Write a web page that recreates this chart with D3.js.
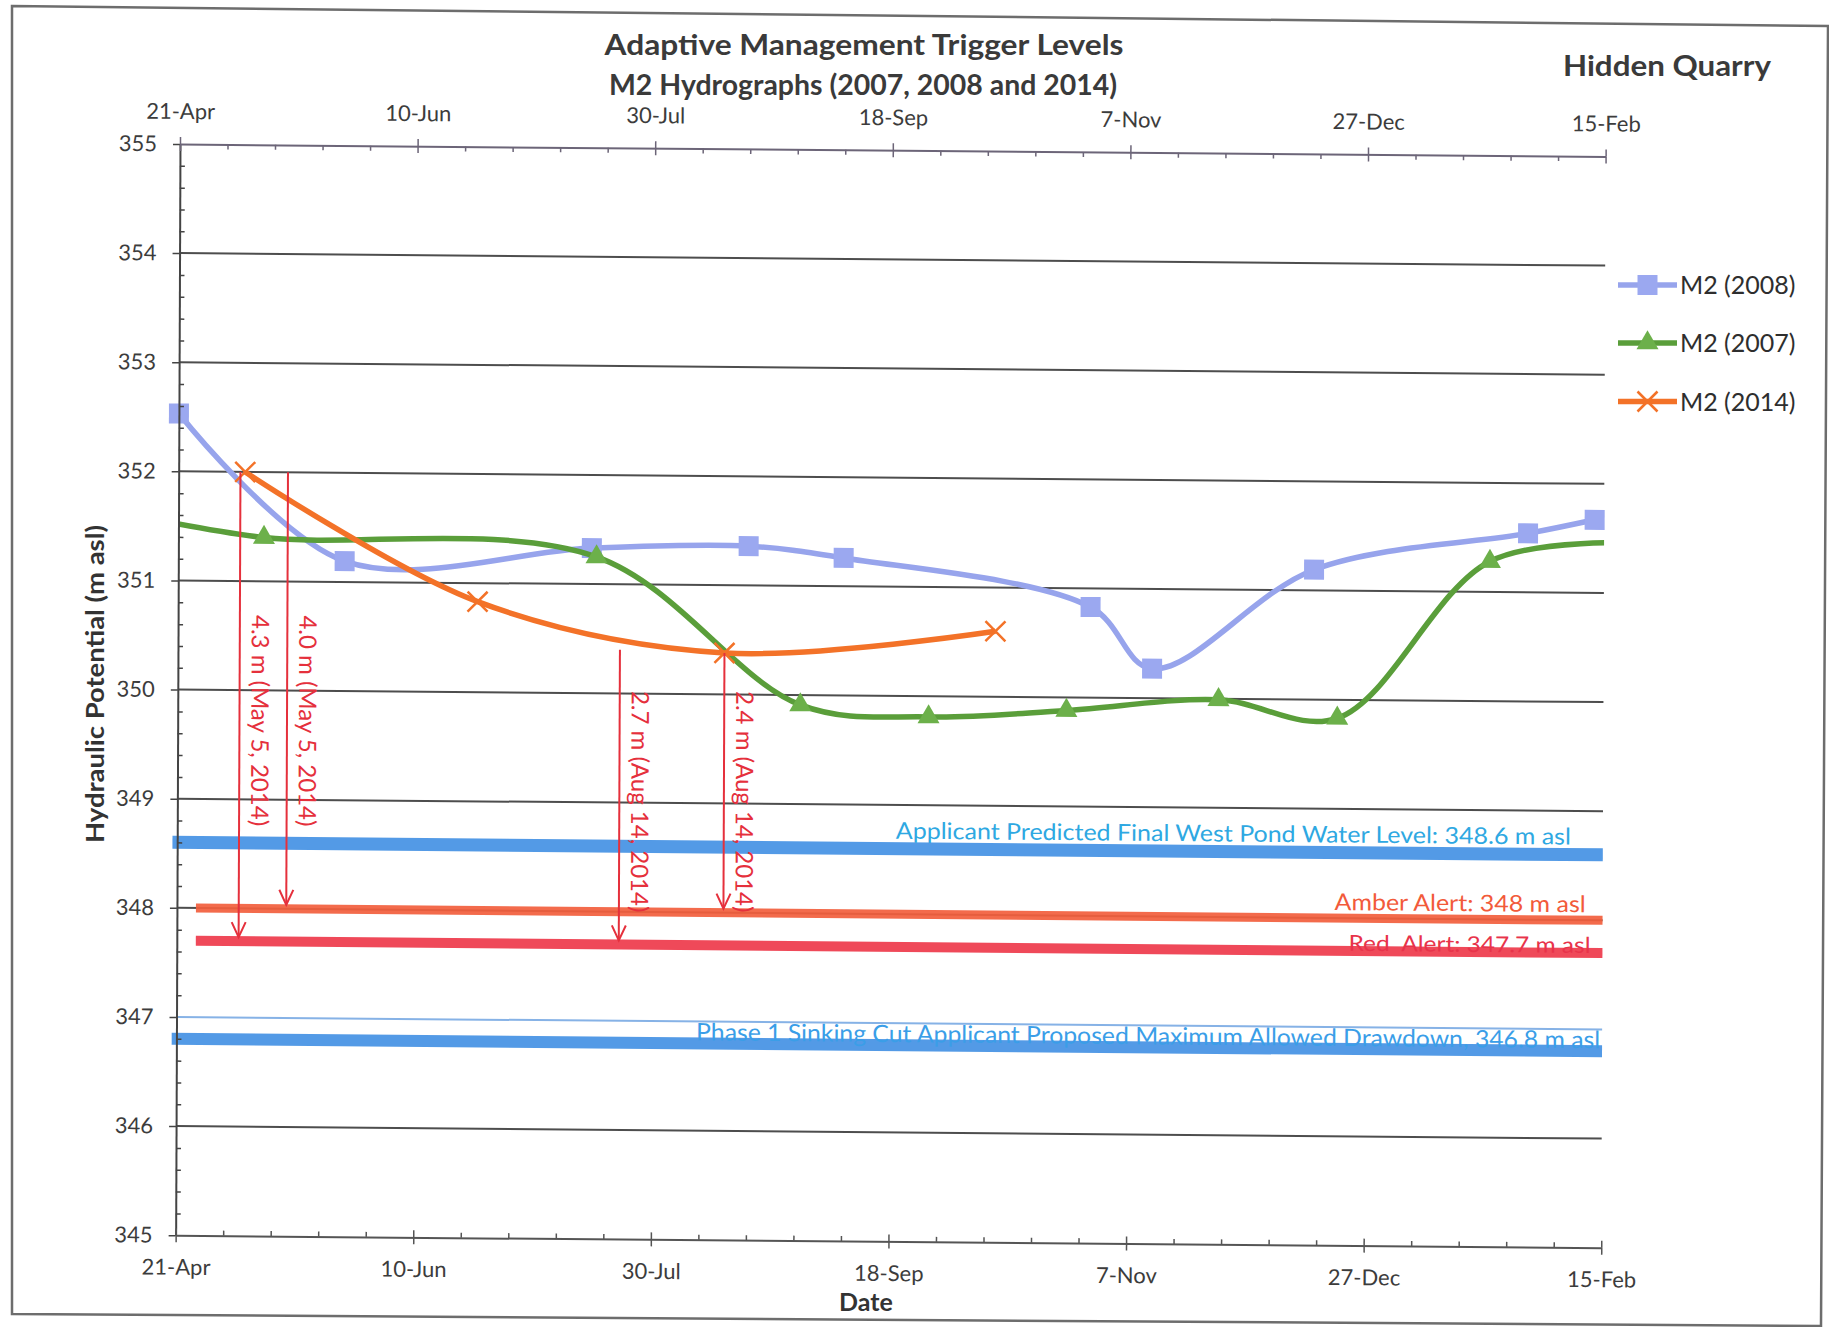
<!DOCTYPE html>
<html><head><meta charset="utf-8">
<script src="https://cdn.jsdelivr.net/npm/d3@7"></script>
<style>
html,body{margin:0;padding:0;background:#fff;}
svg{display:block;}
text{font-family:Lato,"Noto Sans",sans-serif;}
</style></head>
<body><svg id="chart" width="1829" height="1327"></svg>
<script>
// ---------------- data ----------------
const xTickLabels = ["21-Apr","10-Jun","30-Jul","18-Sep","7-Nov","27-Dec","15-Feb"];
const yTickValues = [345,346,347,348,349,350,351,352,353,354,355];
const seriesNames = ["M2 (2008)","M2 (2007)","M2 (2014)"];
const m2_2008_dates  = ["21-Apr","26-May","17-Jul","19-Aug","8-Sep","30-Oct","12-Nov","16-Dec","30-Jan","13-Feb"];
const m2_2008_values = [352.53,351.19,351.33,351.36,351.26,350.83,350.27,351.19,351.54,351.67];
const m2_2007_dates  = ["11-Apr","9-May","18-Jul","30-Aug","26-Sep","25-Oct","26-Nov","21-Dec","22-Jan","22-Feb"];
const m2_2007_values = [351.60,351.40,351.25,349.91,349.81,349.88,349.99,349.83,351.28,351.46];
const m2_2014_dates  = ["5-May","23-Jun","14-Aug","10-Oct"];
const m2_2014_values = [352.0,350.83,350.38,350.60];
const levelLabels = ["Applicant Predicted Final West Pond Water Level: 348.6 m asl","Amber Alert: 348 m asl","Red  Alert: 347.7 m asl","Phase 1 Sinking Cut Applicant Proposed Maximum Allowed Drawdown, 346.8 m asl"];
const levelValues = [348.6,348.0,347.7,346.8];
const levelStart  = ["20-Apr","25-Apr","25-Apr","20-Apr"];
const levelEnd    = ["15-Feb","15-Feb","15-Feb","15-Feb"];
const annoDates  = ["4-May","14-May","23-Jul","14-Aug"];
const annoTop    = [352.0,352.0,350.4,350.38];
const annoBottom = [347.7,348.0,347.7,348.0];
const annoLabels = ["4.3 m (May 5, 2014)","4.0 m (May 5, 2014)","2.7 m (Aug 14, 2014)","2.4 m (Aug 14, 2014)"];

// ---------------- layout / style ----------------
const W = 1425.6, H = 1091.2;
const svg = d3.select("#chart");
const parseDay = s => { const [d,m] = s.split("-"); return d3.utcParse("%d-%b-%Y")(`${d}-${m}-${(m==="Jan"||m==="Feb")?2015:2014}`); };
const x = d3.scaleUtc().domain([parseDay(xTickLabels[0]), parseDay(xTickLabels[xTickLabels.length-1])]).range([0, W]);
const y = d3.scaleLinear().domain([345,355]).range([H,0]);

// outer frame (scanned page border)
svg.append("polygon").attr("points","12,6 1828,26 1821,1326 12,1314")
  .attr("fill","none").attr("stroke","#6d6d6d").attr("stroke-width",2.5);

// titles
svg.append("text").attr("x",864).attr("y",55).attr("text-anchor","middle")
  .attr("font-size",29).attr("font-weight","bold").attr("fill","#3a3a3a")
  .attr("textLength",519).attr("lengthAdjust","spacingAndGlyphs")
  .text("Adaptive Management Trigger Levels");
svg.append("text").attr("x",863).attr("y",95).attr("text-anchor","middle")
  .attr("font-size",29).attr("font-weight","bold").attr("fill","#3a3a3a")
  .attr("textLength",508).attr("lengthAdjust","spacingAndGlyphs")
  .text("M2 Hydrographs (2007, 2008 and 2014)");
svg.append("text").attr("x",1667).attr("y",76).attr("text-anchor","middle")
  .attr("font-size",29).attr("font-weight","bold").attr("fill","#3a3a3a")
  .attr("textLength",208).attr("lengthAdjust","spacingAndGlyphs")
  .text("Hidden Quarry");
svg.append("text").attr("transform","translate(104,684) rotate(-90)").attr("text-anchor","middle")
  .attr("font-size",25).attr("font-weight","bold").attr("fill","#333")
  .attr("textLength",318).attr("lengthAdjust","spacingAndGlyphs")
  .text("Hydraulic Potential (m asl)");
svg.append("text").attr("x",866).attr("y",1311).attr("text-anchor","middle")
  .attr("font-size",25).attr("font-weight","bold").attr("fill","#333").text("Date");

// plot group (slightly skewed like the scan)
const g = svg.append("g").attr("transform","matrix(1,0.00877,-0.00399,1,180,144)");
svg.append("defs").append("clipPath").attr("id","clip").append("rect")
  .attr("x",0).attr("y",-20).attr("width",W).attr("height",H+40);

// gridlines
g.append("g").selectAll("line").data(yTickValues.filter(v=>v>345&&v<355)).join("line")
  .attr("x1",0).attr("x2",W).attr("y1",d=>y(d)).attr("y2",d=>y(d))
  .attr("stroke",d=>d===347?"#86b2e6":"#4d4d4d").attr("stroke-width",2);

// reference level bands
const bandColors = ["#4592e4","#f35f3d","#ee3a4b","#4592e4"];
const bandWidths = [13,9,10,12];
const labelColors = ["#2ea8e2","#f25a3a","#e8334a","#3a9ee8"];
const labelDy = [-10,-8,0,-3];
const labelSize = [23,23,22,24];
const labelLen = [675,251,242,904];
const labelEndX = [W-32,W-17,W-12,W-2];
levelValues.forEach((v,i)=>{
  g.append("line").attr("x1",x(parseDay(levelStart[i]))).attr("x2",x(parseDay(levelEnd[i])))
    .attr("y1",y(v)).attr("y2",y(v)).attr("stroke",bandColors[i]).attr("stroke-width",bandWidths[i]).attr("opacity",0.92);
});
levelValues.forEach((v,i)=>{
  g.append("text").attr("x",labelEndX[i]).attr("y",y(v)+labelDy[i]).attr("text-anchor","end")
    .attr("font-size",labelSize[i]).attr("fill",labelColors[i]).style("white-space","pre")
    .attr("textLength",labelLen[i]).attr("lengthAdjust","spacingAndGlyphs")
    .text(levelLabels[i]);
});

// series
const seriesDates = [m2_2008_dates,m2_2007_dates,m2_2014_dates];
const seriesValues = [m2_2008_values,m2_2007_values,m2_2014_values];
const seriesColor = ["#97a4ec","#5a9e3a","#f37228"];
const markerFill = ["#9ba8f0","#6cb04a","none"];
const markerType = ["square","triangle","x"];
const lineGen = d3.line().x(d=>x(d.date)).y(d=>y(d.value)).curve(d3.curveCatmullRom.alpha(0.5));
function drawMarker(sel, type, color, fill){
  if(type==="square") sel.append("path").attr("d",d3.symbol(d3.symbolSquare,400)()).attr("fill",fill);
  else if(type==="triangle") sel.append("path").attr("d",d3.symbol(d3.symbolTriangle,210)()).attr("fill",fill);
  else sel.append("path").attr("d","M-10,-10L10,10M-10,10L10,-10").attr("stroke",color).attr("stroke-width",2.5).attr("fill","none");
}
const [d0,d1] = x.domain();
seriesNames.forEach((name,i)=>{
  const pts = seriesDates[i].map((s,j)=>({date:parseDay(s), value:seriesValues[i][j]}));
  const sg = g.append("g");
  sg.append("path").datum(pts).attr("d",lineGen).attr("fill","none").attr("clip-path","url(#clip)")
    .attr("stroke",seriesColor[i]).attr("stroke-width",5.5).attr("stroke-linejoin","round");
  pts.filter(p=>p.date>=d0&&p.date<=d1).forEach(p=>{
    const mg = sg.append("g").attr("transform",`translate(${x(p.date)},${y(p.value)})`);
    drawMarker(mg, markerType[i], seriesColor[i], markerFill[i]);
  });
});

// annotations
const annoColor = "#e5303c";
const annoTextOffset = [143,143,41,38];
annoDates.forEach((s,i)=>{
  const ax = x(parseDay(s)), yt = y(annoTop[i]), yb = y(annoBottom[i]) - 4;
  g.append("line").attr("x1",ax).attr("x2",ax).attr("y1",yt).attr("y2",yb).attr("stroke",annoColor).attr("stroke-width",2);
  g.append("path").attr("d",`M${ax-7},${yb-15}L${ax},${yb}L${ax+7},${yb-15}`).attr("fill","none").attr("stroke",annoColor).attr("stroke-width",2);
  g.append("text").attr("transform",`translate(${ax+12},${yt+annoTextOffset[i]}) rotate(90)`)
    .attr("font-family","'Open Sans',sans-serif").attr("font-size",24).attr("fill",annoColor).text(annoLabels[i]);
});

// axes
const majorDates = xTickLabels.map(parseDay);
const minorDates = d3.range(0,301,10).map(k=>d3.utcDay.offset(d0,k)).filter(d=>!majorDates.some(m=>+m===+d));
const minorY = d3.range(345.2,355,0.2).filter(v=>Math.abs(v-Math.round(v))>0.01);
function styleAxis(sel,color){
  sel.selectAll(".domain").attr("stroke",color).attr("stroke-width",2);
  sel.selectAll(".tick line").attr("stroke",color).attr("stroke-width",1.5);
  sel.selectAll(".tick text").attr("font-family","Lato").attr("font-size",22).attr("fill","#3c3c3c");
}
// left
const yl = g.append("g").call(d3.axisLeft(y).tickValues(yTickValues).tickSize(7).tickSizeOuter(0).tickPadding(16).tickFormat(d3.format("d")));
styleAxis(yl,"#444");
const ym = g.append("g").call(d3.axisRight(y).tickValues(minorY).tickSize(5).tickFormat(""));
ym.select(".domain").remove(); styleAxis(ym,"#444");
// bottom
const xb = g.append("g").attr("transform",`translate(0,${H})`)
  .call(d3.axisBottom(x).tickValues(majorDates).tickSize(7).tickSizeOuter(0).tickPadding(17).tickFormat((d,i)=>xTickLabels[i]));
styleAxis(xb,"#555");
const xbi = g.append("g").attr("transform",`translate(0,${H})`).call(d3.axisTop(x).tickValues(majorDates).tickSize(7).tickFormat(""));
xbi.select(".domain").remove(); styleAxis(xbi,"#555");
const xbm = g.append("g").attr("transform",`translate(0,${H})`).call(d3.axisTop(x).tickValues(minorDates).tickSize(5).tickFormat(""));
xbm.select(".domain").remove(); styleAxis(xbm,"#555");
// top
const xt = g.append("g").call(d3.axisTop(x).tickValues(majorDates).tickSize(7).tickSizeOuter(0).tickPadding(18).tickFormat((d,i)=>xTickLabels[i]));
styleAxis(xt,"#6c6578");
const xti = g.append("g").call(d3.axisBottom(x).tickValues(majorDates).tickSize(7).tickFormat(""));
xti.select(".domain").remove(); styleAxis(xti,"#6c6578");
const xtm = g.append("g").call(d3.axisBottom(x).tickValues(minorDates).tickSize(5).tickFormat(""));
xtm.select(".domain").remove(); styleAxis(xtm,"#6c6578");

// legend
const legendY = [285,343,401.5];
seriesNames.forEach((name,i)=>{
  const lg = svg.append("g").attr("transform",`translate(1618,${legendY[i]})`);
  lg.append("line").attr("x1",0).attr("x2",59).attr("stroke",seriesColor[i]).attr("stroke-width",5.5);
  const mg = lg.append("g").attr("transform","translate(29.5,0)");
  drawMarker(mg, markerType[i], seriesColor[i], markerFill[i]);
  lg.append("text").attr("x",62).attr("y",9).attr("font-size",25).attr("fill","#2e2e2e").text(name);
});
</script>
</body></html>
